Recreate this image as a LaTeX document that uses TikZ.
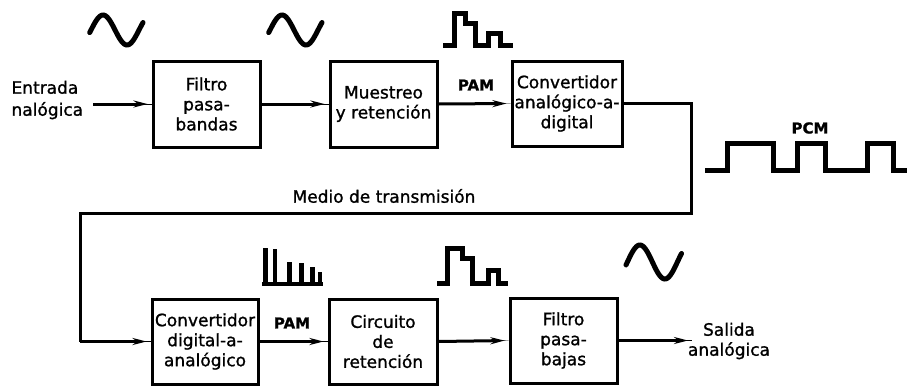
\documentclass[tikz,border=0pt]{standalone}
\usepackage{fontspec}
\setmainfont{DejaVu Sans}[FakeBold=1.2]
\usetikzlibrary{arrows.meta}
\begin{document}
\begin{tikzpicture}[x=1pt,y=-1pt,
  every node/.style={font=\fontsize{17}{20}\selectfont},
  block/.style={draw, line width=3pt, inner sep=0pt, align=center},
  lbl/.style={font=\fontsize{15}{18}\selectfont\bfseries},
  wire/.style={line width=3pt},
  arr/.style={wire, -{Stealth[length=14pt,width=7pt]}, shorten >=4pt,
     preaction={draw, -, shorten >=0pt}},
  wave/.style={line width=5pt, line join=miter},
  pulse/.style={line width=4.5pt}]
\useasboundingbox (0,0) rectangle (907,386);
% top row
\node[block, minimum width=107pt, minimum height=86pt] (f1) at (206.5,104) {Filtro\\pasa-\\bandas};
\node[block, minimum width=107pt, minimum height=86pt] (m1) at (383.5,104) {Muestreo\\y retención};
\node[block, minimum width=110pt, minimum height=85pt] (adc) at (567,103.5) {Convertidor\\analógico-a-\\digital};
\node[align=left, anchor=west, font=\fontsize{17}{22}\selectfont] (ent) at (8,100) {Entrada\\nalógica};
\node[lbl] (pam1) at (476,85) {PAM};
\node[lbl] (pcm) at (810,128) {PCM};
\node (medio) at (384,196) {Medio de transmisión};
% bottom row
\node[block, minimum width=106pt, minimum height=85pt] (dac) at (205,341.5) {Convertidor\\digital-a-\\analógico};
\node[block, minimum width=108pt, minimum height=85pt] (cr) at (383,341.5) {Circuito\\de\\retención};
\node[block, minimum width=107pt, minimum height=85pt] (fpb) at (563.5,340.5) {Filtro\\pasa-\\bajas};
\node[align=center] (sal) at (729,341) {Salida\\analógica};
\node[lbl] (pam2) at (292,323) {PAM};
% connectors
\coordinate (in) at (93,104);
\draw[arr] (in) -- (f1.west);
\draw[arr] (f1.east) -- (m1.west);
\draw[arr] (m1.east) -- (adc.west);
\coordinate (c1) at (691,213);
\coordinate (c2) at (80,213);
\coordinate (c3) at (80,341.5);
\draw[wire, line join=miter] (adc.east) -| (c1) -- (c2) -- (c3);
\draw[arr] (c3) -- (dac.west);
\draw[arr] (dac.east) -- (cr.west);
\draw[arr] (cr.east) -- (fpb.west);
\coordinate (out) at (692,340.5);
\draw[arr] (fpb.east) -- (out);
% waveforms
\draw[wave, line cap=round] plot[domain=-10:390, samples=60] ({89.7+(\x+10)/360*48},{30-15*sin(\x)});
\draw[wave, line cap=round] plot[domain=-10:390, samples=60] ({268.7+(\x+10)/360*48},{30-15*sin(\x)});
\draw[wave, line cap=round] plot[domain=-10:390, samples=60] ({626+(\x+10)/360*50},{262-17*sin(\x)});
\draw[wave] (443,45) -- (454,45) -- (454,13) -- (465,13) -- (465,23) -- (475,23) -- (475,45) -- (488,45) -- (488,33) -- (500,33) -- (500,45) -- (513,45);
\draw[wave] (437,283) -- (447,283) -- (447,248) -- (462,248) -- (462,258) -- (472,258) -- (472,283) -- (488,283) -- (488,270) -- (498,270) -- (498,283) -- (508,283);
\draw[wave] (705,170) -- (727,170) -- (727,143) -- (773,143) -- (773,170) -- (797,170) -- (797,143) -- (825,143) -- (825,170) -- (867,170) -- (867,143) -- (893,143) -- (893,170) -- (907,170);
\draw[line width=3.5pt] (262,284) -- (323,284);
\foreach \px/\py in {265.5/248, 275/249, 289.5/262, 301.5/263, 312.5/267, 320/272}
  \draw[pulse] (\px,285) -- (\px,\py);
\end{tikzpicture}
\end{document}
